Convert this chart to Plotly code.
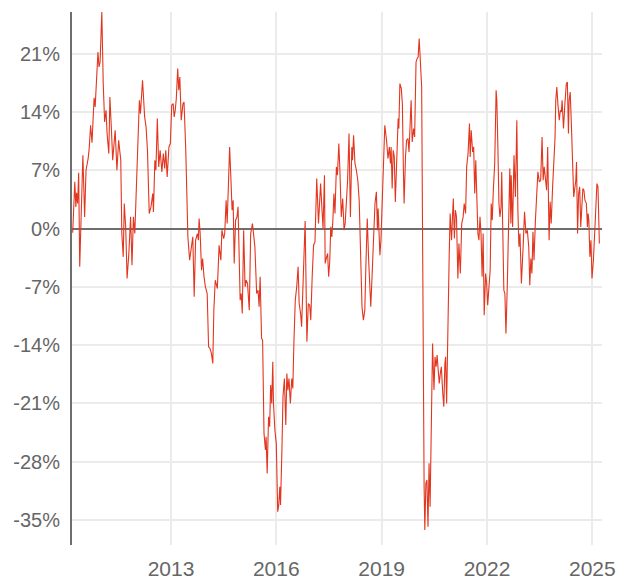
import pandas as pd
import plotly.graph_objects as go

# decimal-year time stamps and values (%)
t_years = [
    2010.20, 2010.26, 2010.29, 2010.31, 2010.34, 2010.37, 2010.40, 2010.44, 2010.49, 2010.54,
    2010.58, 2010.64, 2010.67, 2010.71, 2010.75, 2010.81, 2010.84, 2010.92, 2010.95, 2010.98,
    2011.03, 2011.07, 2011.11, 2011.15, 2011.18, 2011.23, 2011.26, 2011.30, 2011.34, 2011.38,
    2011.41, 2011.46, 2011.51, 2011.57, 2011.60, 2011.64, 2011.67, 2011.71, 2011.75, 2011.80,
    2011.85, 2011.89, 2011.93, 2011.97, 2012.02, 2012.07, 2012.10, 2012.13, 2012.19, 2012.25,
    2012.29, 2012.33, 2012.38, 2012.43, 2012.48, 2012.50, 2012.54, 2012.57, 2012.61, 2012.65,
    2012.69, 2012.74, 2012.78, 2012.82, 2012.85, 2012.89, 2012.94, 2012.98, 2013.02, 2013.06,
    2013.09, 2013.12, 2013.15, 2013.19, 2013.22, 2013.25, 2013.29, 2013.34, 2013.37, 2013.42,
    2013.45, 2013.48, 2013.53, 2013.58, 2013.62, 2013.66, 2013.70, 2013.75, 2013.78, 2013.80,
    2013.83, 2013.87, 2013.90, 2013.94, 2013.98, 2014.03, 2014.07, 2014.11, 2014.15, 2014.19,
    2014.22, 2014.26, 2014.32, 2014.37, 2014.42, 2014.45, 2014.50, 2014.53, 2014.57, 2014.60,
    2014.65, 2014.67, 2014.71, 2014.74, 2014.77, 2014.80, 2014.84, 2014.88, 2014.91, 2014.94,
    2014.97, 2015.00, 2015.03, 2015.07, 2015.11, 2015.14, 2015.18, 2015.23, 2015.27, 2015.32,
    2015.36, 2015.39, 2015.44, 2015.48, 2015.51, 2015.54, 2015.58, 2015.61, 2015.65, 2015.69,
    2015.71, 2015.74, 2015.78, 2015.81, 2015.84, 2015.87, 2015.90, 2015.92, 2015.96, 2016.00,
    2016.04, 2016.07, 2016.10, 2016.12, 2016.16, 2016.19, 2016.23, 2016.27, 2016.30, 2016.33,
    2016.36, 2016.40, 2016.44, 2016.47, 2016.50, 2016.54, 2016.58, 2016.62, 2016.65, 2016.69,
    2016.72, 2016.76, 2016.80, 2016.82, 2016.87, 2016.91, 2016.95, 2016.98, 2017.02, 2017.06,
    2017.10, 2017.15, 2017.20, 2017.24, 2017.26, 2017.30, 2017.33, 2017.37, 2017.39, 2017.43,
    2017.46, 2017.49, 2017.52, 2017.55, 2017.58, 2017.61, 2017.64, 2017.67, 2017.71, 2017.74,
    2017.78, 2017.81, 2017.85, 2017.89, 2017.93, 2017.96, 2018.00, 2018.03, 2018.07, 2018.11,
    2018.15, 2018.17, 2018.20, 2018.24, 2018.28, 2018.32, 2018.36, 2018.40, 2018.44, 2018.48,
    2018.52, 2018.55, 2018.59, 2018.63, 2018.69, 2018.73, 2018.78, 2018.81, 2018.85, 2018.88,
    2018.90, 2018.93, 2018.95, 2018.98, 2019.02, 2019.06, 2019.09, 2019.14, 2019.18, 2019.22,
    2019.25, 2019.27, 2019.30, 2019.33, 2019.36, 2019.39, 2019.43, 2019.47, 2019.49, 2019.52,
    2019.56, 2019.59, 2019.62, 2019.64, 2019.68, 2019.71, 2019.75, 2019.78, 2019.82, 2019.84,
    2019.87, 2019.91, 2019.94, 2019.98, 2020.01, 2020.04, 2020.07, 2020.10, 2020.14, 2020.21,
    2020.23, 2020.26, 2020.29, 2020.32, 2020.35, 2020.38, 2020.41, 2020.45, 2020.49, 2020.52,
    2020.55, 2020.58, 2020.61, 2020.64, 2020.67, 2020.70, 2020.74, 2020.77, 2020.80, 2020.82,
    2020.85, 2020.88, 2020.92, 2020.95, 2020.99, 2021.02, 2021.04, 2021.07, 2021.10, 2021.13,
    2021.17, 2021.20, 2021.24, 2021.28, 2021.32, 2021.35, 2021.39, 2021.42, 2021.46, 2021.50,
    2021.52, 2021.55, 2021.59, 2021.62, 2021.65, 2021.68, 2021.72, 2021.74, 2021.77, 2021.80,
    2021.83, 2021.86, 2021.89, 2021.92, 2021.96, 2021.99, 2022.02, 2022.06, 2022.09, 2022.12,
    2022.15, 2022.18, 2022.22, 2022.26, 2022.28, 2022.31, 2022.34, 2022.37, 2022.40, 2022.42,
    2022.45, 2022.48, 2022.51, 2022.54, 2022.58, 2022.61, 2022.63, 2022.65, 2022.68, 2022.69,
    2022.73, 2022.77, 2022.81, 2022.85, 2022.88, 2022.91, 2022.94, 2022.98, 2023.03, 2023.07,
    2023.11, 2023.15, 2023.19, 2023.22, 2023.25, 2023.28, 2023.31, 2023.34, 2023.38, 2023.42,
    2023.45, 2023.49, 2023.53, 2023.57, 2023.60, 2023.63, 2023.66, 2023.70, 2023.73, 2023.76,
    2023.77, 2023.80, 2023.83, 2023.87, 2023.91, 2023.94, 2023.96, 2023.99, 2024.02, 2024.06,
    2024.09, 2024.12, 2024.14, 2024.18, 2024.22, 2024.26, 2024.29, 2024.32, 2024.34, 2024.37,
    2024.40, 2024.44, 2024.47, 2024.50, 2024.53, 2024.55, 2024.58, 2024.61, 2024.64, 2024.67,
    2024.71, 2024.73, 2024.76, 2024.79, 2024.83, 2024.86, 2024.88, 2024.90, 2024.93, 2024.96,
    2024.99, 2025.03, 2025.07, 2025.10, 2025.13, 2025.16, 2025.20,
]

values = [
    -0.5, 5.6, 2.6, 4.3, 3.0, 6.7, -4.6, 1.9, 8.8, 1.4,
    7.0, 8.4, 9.6, 12.4, 10.3, 15.7, 14.6, 21.2, 19.4, 20.0,
    26.0, 17.4, 12.8, 14.2, 11.4, 9.0, 15.8, 12.2, 8.2, 10.3,
    11.8, 7.0, 10.6, 8.2, -0.6, -3.4, 3.0, 0.2, -6.0, -3.0,
    1.4, -4.4, 1.4, -0.6, 5.0, 10.6, 15.4, 13.8, 17.8, 13.4,
    12.2, 9.4, 1.8, 2.6, 4.2, 2.0, 8.2, 7.0, 13.2, 7.4,
    9.4, 6.8, 9.0, 7.2, 9.4, 6.2, 9.8, 10.2, 14.8, 15.0,
    13.4, 14.2, 15.6, 19.2, 16.6, 18.2, 13.0, 15.0, 15.2, 9.4,
    2.6, -1.0, -3.8, -2.2, -1.0, -8.2, -1.4, -0.6, -1.4, 1.2,
    -0.6, -5.0, -3.6, -5.8, -7.0, -7.8, -14.2, -14.4, -15.0, -16.2,
    -9.8, -6.2, -7.2, -2.0, -3.8, -0.2, -1.2, -0.6, 3.4, 0.6,
    7.4, 9.8, 5.6, 2.2, 3.4, -4.2, 1.0, 1.4, 2.6, -3.8,
    -8.6, -7.8, -10.2, -0.2, -7.0, -6.2, -6.6, -9.8, -0.6, 0.6,
    -1.4, -2.2, -7.8, -7.4, -9.4, -5.8, -13.2, -13.4, -24.6, -26.6,
    -25.0, -29.4, -22.6, -23.8, -18.8, -21.0, -16.0, -21.0, -24.2, -25.8,
    -34.0, -33.2, -31.0, -33.2, -26.6, -20.2, -18.0, -23.6, -17.4, -19.4,
    -18.0, -21.0, -18.0, -19.2, -13.8, -8.6, -7.0, -4.6, -9.0, -10.2,
    -11.8, -7.0, -1.4, 0.9, -13.6, -9.0, -9.2, -11.0, -5.8, -2.0,
    -1.6, 6.0, 0.6, 3.6, 5.4, 2.2, 0.0, 6.4, -4.2, -3.4,
    -3.0, -5.8, -4.0, 0.2, -1.0, 1.0, 4.2, 1.8, 7.4, 6.4,
    10.2, 7.0, 1.4, 3.6, -0.2, 0.6, 4.2, 5.8, 11.4, 1.4,
    9.8, 8.2, 11.2, 7.8, 7.0, 5.8, 3.4, -1.8, -9.4, -11.0,
    -9.8, -4.6, 1.2, -3.8, -9.4, -5.4, -0.6, 3.0, 4.4, -0.2,
    2.4, -0.2, -3.2, -1.4, 4.6, 9.4, 12.4, 10.6, 8.4, 9.8,
    7.8, 9.8, 4.8, 9.4, 8.6, 3.2, 7.4, 13.2, 12.0, 17.4,
    16.8, 15.0, 7.0, 3.0, 8.6, 10.6, 10.8, 9.2, 13.4, 15.4,
    10.4, 12.0, 11.0, 20.0, 20.4, 20.6, 22.8, 19.4, 17.0, -31.0,
    -36.2, -30.6, -30.2, -35.8, -28.2, -33.4, -25.0, -13.8, -19.4, -15.4,
    -16.6, -15.2, -17.0, -18.6, -17.4, -16.6, -19.8, -21.4, -16.2, -15.4,
    -21.0, -11.4, -3.8, 1.8, -1.4, 1.8, 3.6, -1.2, 2.2, 1.4,
    -6.0, -1.8, -5.4, 0.6, 1.4, 3.0, 1.8, 7.4, 9.0, 12.6,
    8.6, 11.8, 9.2, 9.8, 4.2, 8.2, 3.8, -0.6, -1.4, 1.4,
    -0.6, -5.8, -0.6, -10.4, -5.4, -6.6, -9.2, -6.2, -5.0, 3.0,
    1.0, 4.6, 7.8, 16.6, 15.4, 9.8, 3.0, 1.4, 2.6, 6.8,
    0.2, -7.4, -7.8, -12.6, -6.6, 1.0, 5.0, 7.2, 0.6, 6.4,
    0.2, 8.8, 3.8, 13.0, 2.2, -2.2, -0.6, -6.6, -2.2, 2.0,
    -0.6, -0.2, -2.2, -6.8, -3.6, -5.4, -0.4, -3.8, 1.0, 4.2,
    6.8, 5.6, 5.8, 11.0, 5.8, 7.4, 6.2, 4.6, 9.8, 4.2,
    -1.4, 3.2, 0.6, 5.0, 8.6, 11.0, 15.4, 17.0, 15.0, 13.0,
    14.2, 14.0, 15.4, 12.0, 15.0, 17.4, 17.6, 11.4, 15.4, 16.4,
    13.0, 8.2, 3.8, 4.8, 5.8, 8.0, -0.6, 4.2, 5.0, 0.2,
    3.8, 4.8, 4.6, 3.4, 3.0, 0.2, 1.8, 1.0, -3.4, -1.4,
    -6.0, -3.8, -0.2, 3.4, 5.4, 5.0, -1.8,
]

y_ticks = [-35, -28, -21, -14, -7, 0, 7, 14, 21]
x_tick_years = [2013, 2016, 2019, 2022, 2025]


def to_date(t):
    y = int(t)
    start = pd.Timestamp(y, 1, 1)
    end = pd.Timestamp(y + 1, 1, 1)
    return start + (t - y) * (end - start)


dates = [to_date(t) for t in t_years]

fig = go.Figure()
fig.add_trace(go.Scatter(
    x=dates, y=values, mode="lines",
    line=dict(color="#E2361F", width=1.1),
    hoverinfo="x+y", showlegend=False,
))

fig.update_layout(
    width=618, height=579,
    margin=dict(l=72, r=16, t=12, b=34, autoexpand=False),
    paper_bgcolor="white", plot_bgcolor="white",
    font=dict(family="Liberation Sans, Arial, sans-serif", size=20, color="#666666"),
)

fig.update_xaxes(
    type="date", automargin=False,
    range=[to_date(2010.18), to_date(2025.275)],
    tickvals=[pd.Timestamp(y, 1, 1) for y in x_tick_years],
    ticktext=[str(y) for y in x_tick_years],
    showgrid=True, gridcolor="#EBEBEB", gridwidth=2,
    showline=False, zeroline=False,
    ticks="outside", ticklen=5, tickcolor="rgba(0,0,0,0)",
    tickfont=dict(size=21, color="#666666"),
)

fig.update_yaxes(
    automargin=False,
    range=[-38, 26],
    tickvals=y_ticks,
    ticktext=[f"{v}%" for v in y_ticks],
    showgrid=True, gridcolor="#EBEBEB", gridwidth=2,
    zeroline=True, zerolinecolor="#6E6E6E", zerolinewidth=2,
    showline=True, linecolor="#6E6E6E", linewidth=2,
    ticks="outside", ticklen=6, tickcolor="rgba(0,0,0,0)",
    tickfont=dict(size=20, color="#666666"),
)

fig.write_html(
    "out.html",
    config={"displayModeBar": False},
    post_script="document.body.style.margin='0';document.body.style.overflow='hidden';",
)
